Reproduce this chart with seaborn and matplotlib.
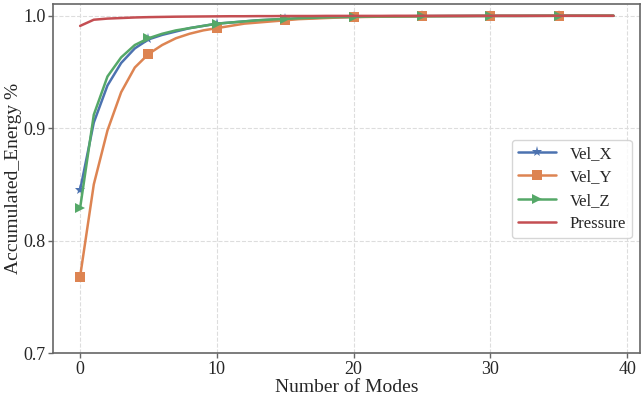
import numpy as np
import pandas as pd
import matplotlib
matplotlib.use("Agg")
import matplotlib.pyplot as plt
import seaborn as sns

# values (modes 0..39)
modes = list(range(40))
vel_x = [0.845, 0.905, 0.938, 0.958, 0.971, 0.979, 0.983, 0.986, 0.989, 0.991,
         0.993, 0.994, 0.995, 0.996, 0.9965, 0.997, 0.9975, 0.998, 0.9985, 0.9988,
         0.999, 0.9992, 0.9993, 0.9994, 0.9995, 0.9996, 0.9997, 0.9997, 0.9998, 0.9998,
         0.9999, 0.9999, 0.9999, 0.9999, 1.0, 1.0, 1.0, 1.0, 1.0, 1.0]
vel_y = [0.768, 0.850, 0.898, 0.932, 0.954, 0.966, 0.974, 0.980, 0.984, 0.987,
         0.989, 0.991, 0.993, 0.994, 0.995, 0.996, 0.997, 0.9975, 0.998, 0.9985,
         0.9988, 0.999, 0.9992, 0.9993, 0.9994, 0.9995, 0.9996, 0.9997, 0.9997, 0.9998,
         0.9998, 0.9999, 0.9999, 0.9999, 0.9999, 1.0, 1.0, 1.0, 1.0, 1.0]
vel_z = [0.829, 0.912, 0.946, 0.963, 0.974, 0.980, 0.984, 0.987, 0.989, 0.991,
         0.993, 0.994, 0.995, 0.996, 0.9967, 0.9973, 0.9978, 0.9982, 0.9986, 0.9989,
         0.9991, 0.9993, 0.9994, 0.9995, 0.9996, 0.9997, 0.9997, 0.9998, 0.9998, 0.9999,
         0.9999, 0.9999, 0.9999, 1.0, 1.0, 1.0, 1.0, 1.0, 1.0, 1.0]
pressure = [0.991, 0.9965, 0.9975, 0.998, 0.9985, 0.9988, 0.999, 0.9992, 0.9993, 0.9994,
            0.9995, 0.9996, 0.9996, 0.9997, 0.9997, 0.9998, 0.9998, 0.9998, 0.9999, 0.9999,
            0.9999, 0.9999, 0.9999, 1.0, 1.0, 1.0, 1.0, 1.0, 1.0, 1.0,
            1.0, 1.0, 1.0, 1.0, 1.0, 1.0, 1.0, 1.0, 1.0, 1.0]

series = {"Vel_X": vel_x, "Vel_Y": vel_y, "Vel_Z": vel_z, "Pressure": pressure}
markers = {"Vel_X": "*", "Vel_Y": "s", "Vel_Z": ">", "Pressure": None}

sns.set_theme(style="whitegrid")
plt.rcParams["font.family"] = ["Liberation Serif", "DejaVu Serif"]

pal = sns.color_palette("deep")
colors = {"Vel_X": pal[0], "Vel_Y": pal[1], "Vel_Z": pal[2], "Pressure": pal[3]}

fig, ax = plt.subplots(figsize=(6.44, 3.98), dpi=100)

for name, vals in series.items():
    df = pd.DataFrame({"mode": modes, "energy": vals})
    kw = {}
    if markers[name]:
        kw = dict(marker=markers[name], markevery=5, markersize=7 if name != "Vel_X" else 8,
                  markeredgewidth=0)
    sns.lineplot(data=df, x="mode", y="energy", ax=ax, color=colors[name],
                 linewidth=1.8, label=name, **kw)

ax.set_ylim(0.7, 1.0105)
ax.set_yticks([0.7, 0.8, 0.9, 1.0])
ax.set_xticks([0, 10, 20, 30, 40])
ax.set_xlabel("Number of Modes", fontsize=14, labelpad=1)
ax.set_ylabel("Accumulated_Energy %", fontsize=14, labelpad=1)
ax.tick_params(labelsize=13, length=3.5, width=1, pad=2, direction="out",
               left=True, bottom=True, color="#666666")
ax.grid(True, linestyle="--", color="#dddddd", linewidth=0.8)
for s in ax.spines.values():
    s.set_color("#666666")
    s.set_linewidth(1.2)

leg = ax.legend(loc="center right", fontsize=12, frameon=True, handlelength=2.3,
                borderpad=0.35, labelspacing=0.45, bbox_to_anchor=(1.0, 0.47))
leg.get_frame().set_edgecolor("#cccccc")

plt.subplots_adjust(left=0.083, right=0.994, top=0.99, bottom=0.113)
fig.savefig("out.png", dpi=100)
